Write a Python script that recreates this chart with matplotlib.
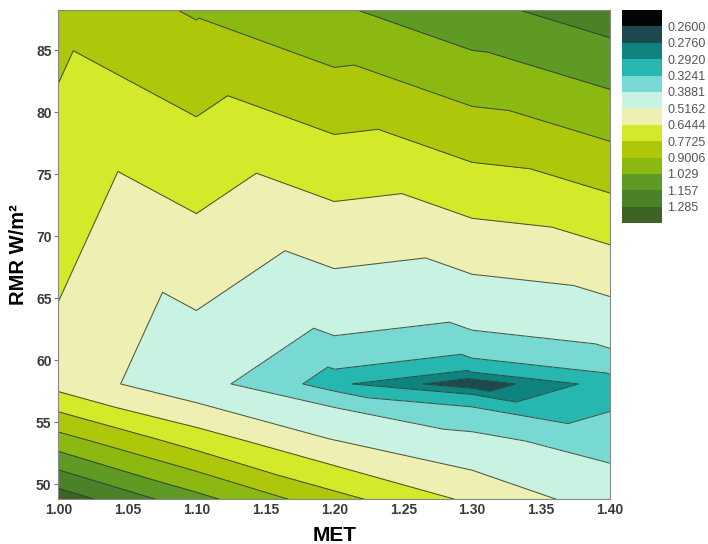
import matplotlib
matplotlib.use("Agg")
import matplotlib.pyplot as plt
import matplotlib.tri as mtri
import numpy as np

plt.rcParams['font.family'] = ['Liberation Sans', 'DejaVu Sans']

# grid of the measured field (MET columns, RMR rows)
met = [1.00, 1.10, 1.20, 1.30, 1.40]
rmr = [48.8, 53.5, 58.1, 88.2]
z_rows = [
    [1.36, 1.072, 0.815, 0.62, 0.45],    # RMR 48.8
    [0.957, 0.715, 0.52, 0.412, 0.350],  # RMR 53.5
    [0.596, 0.419, 0.296, 0.265, 0.300], # RMR 58.1
    [0.815, 0.913, 1.009, 1.12, 1.224],  # RMR 88.2
]

levels = [0.244, 0.2600, 0.2760, 0.2920, 0.3241, 0.3881, 0.5162, 0.6444,
          0.7725, 0.9006, 1.029, 1.157, 1.285, 1.413]
level_labels = ['0.2600', '0.2760', '0.2920', '0.3241', '0.3881', '0.5162',
                '0.6444', '0.7725', '0.9006', '1.029', '1.157', '1.285']
band_colors = ['#050505', '#1d4a4d', '#0f8380', '#26b8b0', '#78d9d2', '#c8f2e2',
               '#eeefb2', '#d3e92a', '#aec70a', '#8cb911', '#5e9a24', '#4b8228',
               '#3d6426']

# points + triangles (diagonal from top-left to bottom-right in each cell)
xx, yy = np.meshgrid(met, rmr)
zz = np.array(z_rows)
nc = len(met)
tris = []
for i in range(len(rmr) - 1):
    for j in range(nc - 1):
        bl = i * nc + j
        br = bl + 1
        tl = bl + nc
        tr = tl + 1
        tris.append([tl, bl, br])
        tris.append([tl, br, tr])
tri = mtri.Triangulation(xx.ravel(), yy.ravel(), tris)

fig = plt.figure(figsize=(7.08, 5.44), dpi=100)
ax = fig.add_axes([0.0826, 0.0822, 0.779, 0.8994])

cs = ax.tricontourf(tri, zz.ravel(), levels=levels, colors=band_colors)
ax.tricontour(tri, zz.ravel(), levels=levels[1:-1], colors='#2f3f2f',
              linewidths=0.75, alpha=0.85)

ax.set_xlim(1.0, 1.4)
ax.set_ylim(48.8, 88.25)
ax.set_xticks(np.arange(1.0, 1.401, 0.05))
ax.set_xticklabels([f'{v:.2f}' for v in np.arange(1.0, 1.401, 0.05)])
ax.set_yticks(range(50, 90, 5))
for lab in ax.get_xticklabels() + ax.get_yticklabels():
    lab.set_fontweight('bold')
    lab.set_fontsize(10)
    lab.set_color('#3a3a3a')
ax.tick_params(axis='x', length=0, pad=3)
ax.tick_params(axis='y', length=3, width=0.8, color='#777777', pad=2)
for sp in ax.spines.values():
    sp.set_color('#888888')
    sp.set_linewidth(0.8)

ax.set_xlabel('MET', fontsize=15, fontweight='bold', labelpad=6)
ax.set_ylabel('RMR W/m²', fontsize=14.5, fontweight='bold', labelpad=6)

# colour key, lowest value at the top
cax = fig.add_axes([0.8785, 0.590, 0.0565, 0.3915])
cb = fig.colorbar(cs, cax=cax, ticks=levels[1:-1])
cb.ax.set_yticklabels(level_labels)
cb.ax.invert_yaxis()
cb.outline.set_visible(False)
cb.ax.tick_params(length=0, labelsize=9, labelcolor='#555555', pad=4)

fig.savefig('out.png', dpi=100)
